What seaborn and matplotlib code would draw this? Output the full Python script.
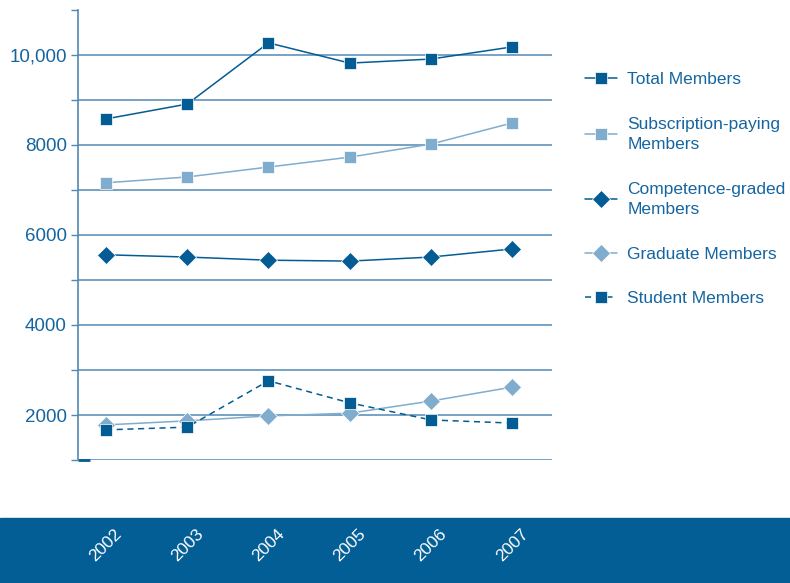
import matplotlib
matplotlib.use("Agg")
import matplotlib.pyplot as plt
import matplotlib.patches as mpatches
from matplotlib.lines import Line2D
import seaborn as sns
import pandas as pd

years = ["2002", "2003", "2004", "2005", "2006", "2007"]
total_members = [8580, 8910, 10270, 9820, 9910, 10180]
subscription_paying = [7160, 7290, 7510, 7730, 8020, 8490]
competence_graded = [5560, 5510, 5440, 5420, 5510, 5690]
graduate_members = [1780, 1870, 1980, 2040, 2310, 2620]
student_members = [1670, 1730, 2760, 2270, 1890, 1820]

series_names = [
    "Total Members",
    "Subscription-paying\nMembers",
    "Competence-graded\nMembers",
    "Graduate Members",
    "Student Members",
]

DARK = "#035C94"
LIGHT = "#80ADCD"
GRID = "#5289B4"
TEXT = "#1565A0"

sns.set_theme(style="white")
plt.rcParams["font.family"] = ["Liberation Sans", "DejaVu Sans"]

fig = plt.figure(figsize=(7.9, 5.83), dpi=100)
ax = fig.add_axes([78 / 790, 1 - 460 / 583, (552 - 78) / 790, (460 - 10) / 583])

idx = list(range(len(years)))
df = pd.DataFrame({
    "idx": idx * 5,
    "value": total_members + subscription_paying + competence_graded
    + graduate_members + student_members,
    "series": sum([[n] * len(years) for n in series_names], []),
})

styles = {
    series_names[0]: dict(color=DARK, marker="s", ms=9, ls="-"),
    series_names[1]: dict(color=LIGHT, marker="s", ms=9, ls="-"),
    series_names[2]: dict(color=DARK, marker="D", ms=9, ls="-"),
    series_names[3]: dict(color=LIGHT, marker="D", ms=9, ls="-"),
    series_names[4]: dict(color=DARK, marker="s", ms=9, ls=(0, (4, 3))),
}

for name in series_names:
    st = styles[name]
    sub = df[df["series"] == name]
    sns.lineplot(data=sub, x="idx", y="value", ax=ax, color=st["color"],
                 marker=st["marker"], markersize=st["ms"], markeredgewidth=0.5,
                 markeredgecolor="white", linestyle=st["ls"], linewidth=1.1,
                 legend=False, zorder=3)

ax.set_xlim(-0.345, 5.49)
ax.set_ylim(1000, 11000)
yt = list(range(1000, 11001, 1000))
ax.set_yticks(yt)
ax.set_yticklabels(["" if v in (1000, 11000) or v % 2000 else
                    ("10,000" if v == 10000 else str(v)) for v in yt])
ax.tick_params(axis="y", length=5, width=1, color=GRID, labelcolor=TEXT,
               labelsize=13.5, pad=3, left=True)
ax.set_xticks([])
ax.set_xlabel("")
ax.set_ylabel("")
ax.yaxis.grid(True, color=GRID, linewidth=1.1)
ax.yaxis.get_gridlines()[-1].set_visible(False)
for s in ["top", "right", "bottom"]:
    ax.spines[s].set_visible(False)
ax.spines["left"].set_color(GRID)
ax.spines["left"].set_linewidth(1.2)
ax.plot([0, 0.025], [0, 0], transform=ax.transAxes, color=DARK, lw=2.0,
        clip_on=False, solid_capstyle="butt")

# bottom band with year labels
fig.patches.append(mpatches.Rectangle((0, 0), 1, 65 / 583, transform=fig.transFigure,
                                      color="#035E96", zorder=-1))
trans = matplotlib.transforms.blended_transform_factory(ax.transData, fig.transFigure)
for i, y in zip(idx, years):
    fig.text(i, 1 - 545 / 583, y, transform=trans, rotation=45, ha="center",
             va="center", color="white", fontsize=12.5, zorder=5)

handles = []
for name in series_names:
    st = styles[name]
    handles.append(Line2D([], [], color=st["color"], marker=st["marker"],
                          markersize=st["ms"], markeredgewidth=0.5,
                          markeredgecolor="white", linestyle=st["ls"],
                          linewidth=1.1))
leg = ax.legend(handles, series_names, loc="upper left",
                bbox_to_anchor=(578 / 790, 1 - 65 / 583),
                bbox_transform=fig.transFigure, frameon=False, fontsize=12.5,
                handlelength=1.85, handletextpad=0.6, labelspacing=1.7,
                borderaxespad=0)
for t in leg.get_texts():
    t.set_color(TEXT)
    t.set_linespacing(1.45)

fig.savefig("out.png", dpi=100)
